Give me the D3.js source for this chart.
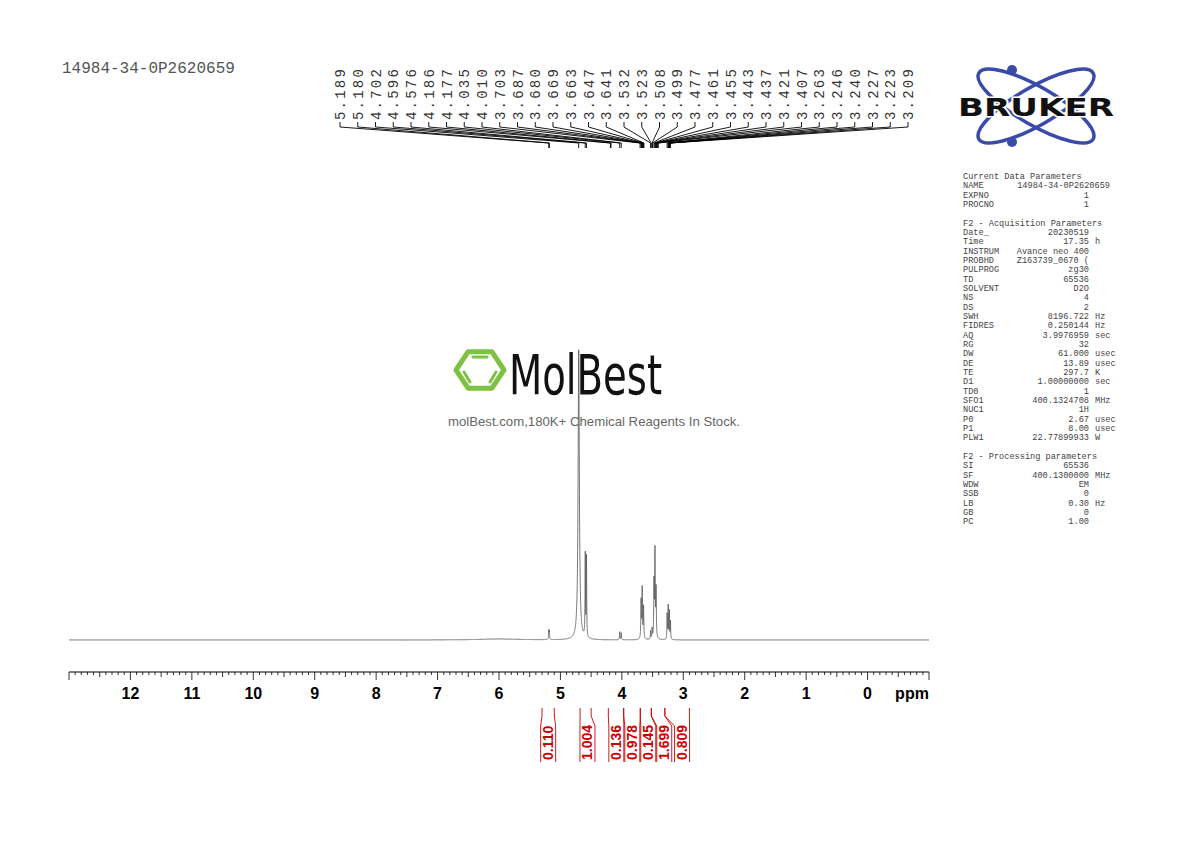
<!DOCTYPE html>
<html><head><meta charset="utf-8">
<script src="https://cdn.jsdelivr.net/npm/d3@7/dist/d3.min.js"></script>
<style>body{margin:0;background:#fff}</style></head>
<body><svg id="c" width="1190" height="842"></svg>
<script>
const title = "14984-34-0P2620659";
const axisTicks = [12,11,10,9,8,7,6,5,4,3,2,1,0];
const peakLabels = ["5.189","5.180","4.702","4.596","4.576","4.186","4.177","4.035","4.010","3.703","3.687","3.680","3.669","3.663","3.647","3.641","3.532","3.523","3.508","3.499","3.477","3.461","3.455","3.443","3.437","3.421","3.407","3.263","3.246","3.240","3.227","3.223","3.209"];
const peakPpm = [5.189,5.180,4.702,4.596,4.576,4.035,4.010,3.687,3.669,3.647,3.532,3.508,3.477,3.461,3.443,3.263,3.246,3.227,3.209,6.0];
const peakHeight=[9,8,290,82,80,8,7,38,50,32,8,10,55,86,48,25,33,28,18,1];
const peakWidth=[0.004,0.004,0.012,0.004,0.004,0.004,0.004,0.005,0.005,0.005,0.004,0.004,0.005,0.005,0.005,0.004,0.004,0.004,0.004,0.4];
const integralValues=["0.110","1.004","0.136","0.978","0.145","1.699","0.809"];
const integralFrom=[5.30,4.68,4.22,3.97,3.70,3.52,3.30];
const integralTo=[5.10,4.50,3.97,3.70,3.52,3.30,2.90];
const integralLabelPpm=[5.20,4.56,4.09,3.83,3.57,3.31,3.02];
const params=[
["Current Data Parameters",""],["NAME","14984-34-0P2620659"],["EXPNO","1"],["PROCNO","1"],["",""],
["F2 - Acquisition Parameters",""],["Date_","20230519"],["Time","17.35 h"],["INSTRUM","Avance neo 400"],["PROBHD","Z163739_0670 ("],["PULPROG","zg30"],["TD","65536"],["SOLVENT","D2O"],["NS","4"],["DS","2"],["SWH","8196.722 Hz"],["FIDRES","0.250144 Hz"],["AQ","3.9976959 sec"],["RG","32"],["DW","61.000 usec"],["DE","13.89 usec"],["TE","297.7 K"],["D1","1.00000000 sec"],["TD0","1"],["SFO1","400.1324708 MHz"],["NUC1","1H"],["P0","2.67 usec"],["P1","8.00 usec"],["PLW1","22.77899933 W"],["",""],
["F2 - Processing parameters",""],["SI","65536"],["SF","400.1300000 MHz"],["WDW","EM"],["SSB","0"],["LB","0.30 Hz"],["GB","0"],["PC","1.00"]];

const svg=d3.select("#c");
const x=d3.scaleLinear().domain([13,-1]).range([69,929]);
const y=d3.scaleLinear().domain([0,300]).range([640,340]);
const mono="'Liberation Mono','DejaVu Sans Mono',monospace";

svg.append("text").attr("x",62).attr("y",73).attr("font-family",mono).attr("font-size",16).attr("fill","#555").text(title);

const pts=d3.range(13,-1.0001,-0.001).map(p=>{let v=0;peakPpm.forEach((c,i)=>{const w=peakWidth[i];v+=peakHeight[i]*w*w/((p-c)*(p-c)+w*w);});return [p,v];});
svg.append("path").datum(pts).attr("fill","none").attr("stroke","#555").attr("stroke-width",0.8)
 .attr("d",d3.line().x(d=>x(d[0])).y(d=>y(d[1])));

const ax=svg.append("g").attr("transform","translate(0,672)");
ax.append("line").attr("x1",69).attr("x2",929).attr("stroke","#000");
const minor=d3.range(-10,131).map(i=>i/10);
ax.selectAll(".mn").data(minor).enter().append("line").attr("x1",d=>x(d)).attr("x2",d=>x(d)).attr("y1",0).attr("y2",d=>Math.abs(d-Math.round(d))<1e-6?8:(Math.abs(d*2-Math.round(d*2))<1e-6?5:3)).attr("stroke","#000").attr("stroke-width",0.8);
ax.selectAll(".lb").data(axisTicks).enter().append("text").attr("x",d=>x(d)).attr("y",27).attr("text-anchor","middle").attr("font-family","Arial,'Liberation Sans',sans-serif").attr("font-weight","bold").attr("font-size",16).text(d=>d);
ax.append("text").attr("x",912).attr("y",27).attr("text-anchor","middle").attr("font-family","Arial,'Liberation Sans',sans-serif").attr("font-weight","bold").attr("font-size",16).text("ppm");

const lx0=340, lx1=908, step=(lx1-lx0)/(peakLabels.length-1);
peakLabels.forEach((t,i)=>{
 const lx=lx0+i*step, px=x(+t);
 svg.append("text").attr("transform",`translate(${lx+5},120) rotate(-90)`).attr("font-family",mono).attr("font-size",14).attr("letter-spacing",2.2).attr("fill","#333").text(t);
 svg.append("path").attr("fill","none").attr("stroke","#000").attr("stroke-width",0.9)
  .attr("d",`M${lx},122 L${lx},127 L${px},143 L${px},148`);
});

integralValues.forEach((v,i)=>{
 const a=x(integralFrom[i]), b=x(integralTo[i]);
 const cx=x(integralLabelPpm[i]);
 const g=svg.append("g").attr("stroke","#c00").attr("fill","none").attr("stroke-width",0.9);
 const hw=7.5;
 g.append("path").attr("d",`M${a},708 L${a},716 L${cx-hw},726 L${cx-hw},762`);
 g.append("path").attr("d",`M${b},708 L${b},716 L${cx+hw},726 L${cx+hw},762`);
 svg.append("text").attr("transform",`translate(${cx+5},760) rotate(-90)`).attr("font-family","Arial,'Liberation Sans',sans-serif").attr("font-weight","bold").attr("font-size",14).attr("fill","#c00").text(v);
});

const pg=svg.append("g").attr("font-family",mono).attr("font-size",8.6).attr("fill","#444");
params.forEach((r,i)=>{
 const yy=179+i*9.33;
 pg.append("text").attr("x",963).attr("y",yy).text(r[0]);
 if(r[1]!==""){
  let val=r[1],unit="";
  const m=val.match(/^(.*) (Hz|h|sec|usec|K|MHz|W)$/);
  if(m){val=m[1];unit=m[2];}
  pg.append("text").attr("x",r[0]==="NAME"?1110:1089).attr("y",yy).attr("text-anchor","end").text(val);
  if(unit)pg.append("text").attr("x",1095).attr("y",yy).text(unit);
 }
});

const bl=svg.append("g");
bl.append("ellipse").attr("cx",1036).attr("cy",106).attr("rx",66).attr("ry",19).attr("transform","rotate(30,1036,106)").attr("fill","none").attr("stroke","#3a4aa8").attr("stroke-width",3.5);
bl.append("ellipse").attr("cx",1036).attr("cy",106).attr("rx",66).attr("ry",19).attr("transform","rotate(-30,1036,106)").attr("fill","none").attr("stroke","#3a4aa8").attr("stroke-width",3.5);
bl.append("circle").attr("cx",1012).attr("cy",70).attr("r",5).attr("fill","#3a4aa8");
bl.append("circle").attr("cx",1012).attr("cy",142).attr("r",5).attr("fill","#3a4aa8");
bl.append("text").attr("x",958).attr("y",116).attr("font-family","'DejaVu Sans',Arial,sans-serif").attr("font-weight","bold").attr("font-size",25).attr("textLength",156).attr("lengthAdjust","spacingAndGlyphs").attr("fill","#111").attr("stroke","#fff").attr("stroke-width",3).attr("paint-order","stroke").text("BRUKER");

const mg=svg.append("g");
const hex=d3.range(6).map(k=>{const a=Math.PI/3*k;return [480+24*Math.cos(a),370+21*Math.sin(a)];});
mg.append("polygon").attr("points",hex.map(p=>p.join(",")).join(" ")).attr("fill","none").attr("stroke","#7dc242").attr("stroke-width",5).attr("stroke-linejoin","round");
mg.append("line").attr("x1",473).attr("y1",357).attr("x2",487).attr("y2",357).attr("stroke","#7dc242").attr("stroke-width",3).attr("stroke-linecap","round");
mg.append("line").attr("x1",464).attr("y1",372).attr("x2",470).attr("y2",382).attr("stroke","#7dc242").attr("stroke-width",3).attr("stroke-linecap","round");
mg.append("line").attr("x1",496).attr("y1",372).attr("x2",490).attr("y2",382).attr("stroke","#7dc242").attr("stroke-width",3).attr("stroke-linecap","round");
mg.append("text").attr("x",509).attr("y",394).attr("font-family","'DejaVu Sans Condensed','Liberation Sans Narrow',sans-serif").attr("font-size",56).attr("textLength",153).attr("lengthAdjust","spacingAndGlyphs").attr("fill","#111").text("MolBest");
mg.append("text").attr("x",594).attr("y",426).attr("text-anchor","middle").attr("font-family","Arial,'Liberation Sans',sans-serif").attr("font-size",13.2).attr("fill","#666").text("molBest.com,180K+ Chemical Reagents In Stock.");
</script></body></html>
